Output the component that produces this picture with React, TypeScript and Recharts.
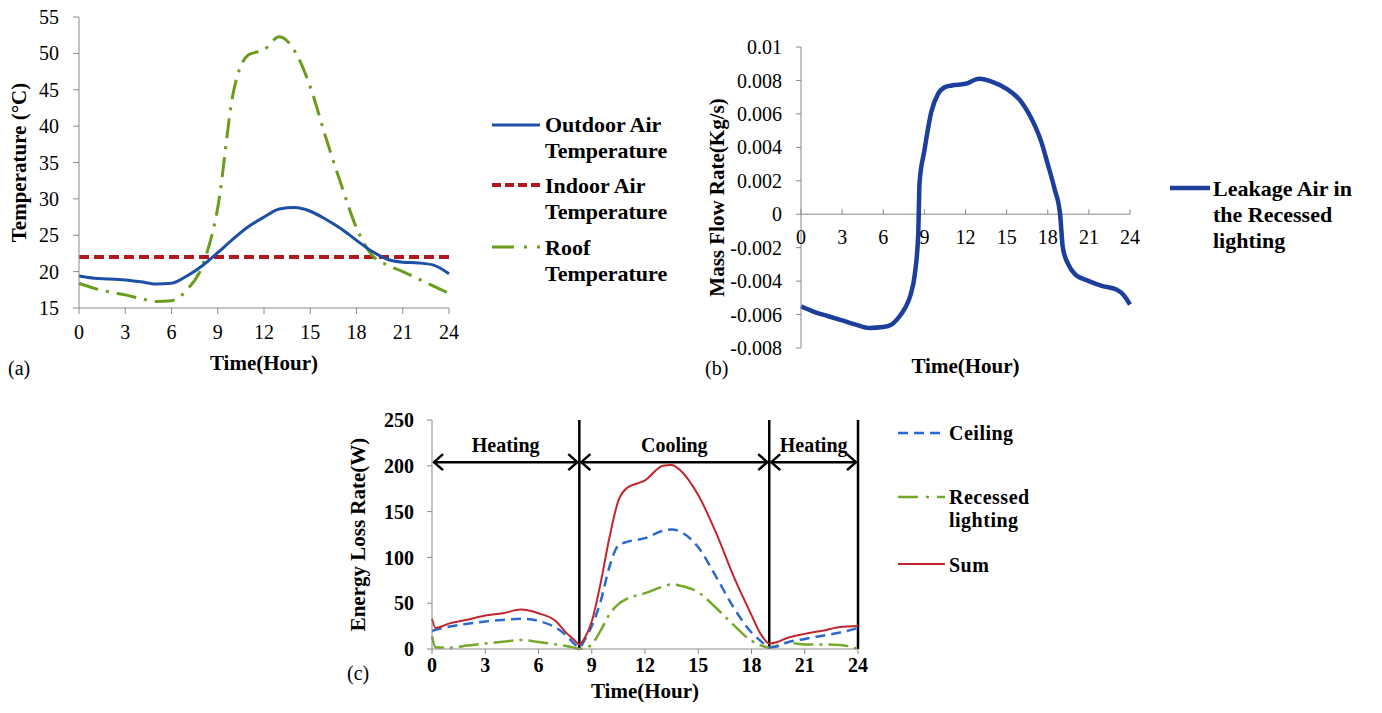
import React from 'react';
import { LineChart, Line, XAxis, YAxis, ReferenceLine, Legend } from 'recharts';

const FONT = '"Liberation Serif", "Times New Roman", serif';
const AXIS = '#8a8a8a';

// ---------- (a) temperatures ----------
const tempHours = [0, 1, 2, 3, 4, 5, 6, 7, 8, 9, 10, 11, 12, 13, 14, 15, 16, 17, 18, 19, 20, 21, 22, 23, 24];
const outdoorTemp = [19.4, 19.1, 19.0, 18.85, 18.6, 18.3, 18.4, 19.4, 20.8, 22.6, 24.5, 26.2, 27.5, 28.6, 28.8, 28.3, 27.2, 25.9, 24.3, 22.8, 21.7, 21.3, 21.2, 20.9, 19.7];
const indoorTemp = [22, 22, 22, 22, 22, 22, 22, 22, 22, 22, 22, 22, 22, 22, 22, 22, 22, 22, 22, 22, 22, 22, 22, 22, 22];
const roofTemp = [18.4, 17.7, 17.2, 16.8, 16.3, 15.9, 16.0, 17.5, 20.8, 28.8, 44.5, 49.8, 50.5, 52.3, 50.3, 45.4, 38.5, 32.0, 26.0, 22.3, 20.9, 20.0, 19.0, 18.0, 17.0];
const hourTicks = [0, 3, 6, 9, 12, 15, 18, 21, 24];
const tempTicks = [15, 20, 25, 30, 35, 40, 45, 50, 55];

// ---------- (b) mass flow ----------
const flowHours = [0, 1, 2, 3, 4, 5, 6, 6.6, 7.1, 7.6, 8.0, 8.3, 8.55, 8.65, 9, 9.5, 10, 10.5, 11, 12, 13, 14, 15, 16, 17, 17.5, 18, 18.5, 18.9, 19.1, 19.5, 20, 21, 22, 23, 23.5, 24];
const flowValues = [-0.0055, -0.00585, -0.0061, -0.00635, -0.0066, -0.0068, -0.00675, -0.0066, -0.0062, -0.0056, -0.0048, -0.0036, -0.0012, 0.0019, 0.0038, 0.0061, 0.0072, 0.0076, 0.0077, 0.0078, 0.0081, 0.0079, 0.0075, 0.0068, 0.0054, 0.0044, 0.003, 0.0015, 0.0, -0.002, -0.003, -0.0036, -0.004, -0.0043, -0.0045, -0.0048, -0.0054];
const flowTicks = [-0.008, -0.006, -0.004, -0.002, 0, 0.002, 0.004, 0.006, 0.008, 0.01];
const FLOW_MIN = -0.008;
const FLOW_MAX = 0.01;

// ---------- (c) energy loss ----------
const lossHours = [0, 0.2, 1, 2, 3, 4, 5, 6, 7, 7.5, 8, 8.3, 8.6, 9, 9.5, 10, 10.5, 11, 12, 13, 13.5, 14, 15, 16, 17, 18, 18.5, 19, 19.5, 20, 21, 22, 23, 24];
const ceilingLoss = [19.7, 21, 24.5, 27.5, 30, 31.7, 33, 30.6, 23, 16, 6, 1.5, 10, 25, 52, 90, 113, 117, 121, 129, 130.5, 128, 111, 79, 45, 18, 9, 2, 3, 7, 11, 14.5, 18, 23];
const recessedLoss = [14, 2, 1.5, 3.8, 6, 7.8, 9.8, 7.6, 5, 3.5, 1.5, 0, 1, 5, 20, 38, 49, 55, 61, 68, 70.5, 69, 62, 45, 26, 9, 4, 1.5, 4, 7, 5, 5, 4.5, 0];
const sumLoss = [33, 23, 28, 32, 36.5, 39, 43, 39, 30, 19, 10, 5, 12, 30, 72, 122, 162, 176, 184, 200, 201, 195, 168, 127, 79, 37, 17, 6, 8, 12, 16.5, 20, 24, 25];
const lossTicks = [0, 50, 100, 150, 200, 250];
const modeBounds = [8.3, 19, 24];
const modeStarts = [0, 8.3, 19];
const modeEnds = [8.3, 19, 24];
const modeNames = ['Heating', 'Cooling', 'Heating'];
const ARROW_LEVEL = 204;

const tempData = tempHours.map((h, i) => ({ h, outdoor: outdoorTemp[i], indoor: indoorTemp[i], roof: roofTemp[i] }));
const flowData = flowHours.map((h, i) => ({ h, flow: flowValues[i] }));
const lossData = lossHours.map((h, i) => ({ h, ceiling: ceilingLoss[i], recessed: recessedLoss[i], sum: sumLoss[i] }));

const BLUE = '#1d4fa6';
const RED = '#b01a1f';
const GREEN = '#6a9c1e';

type LegendRow = { lines: string[]; stroke: string; dash?: string; sw: number; lineY: number; baselines: number[] };

function LegendSvg({ w, h, rows, x1, x2, tx, fs, ls }: { w: number; h: number; rows: LegendRow[]; x1: number; x2: number; tx: number; fs: number; ls?: number }) {
  return (
    <svg width={w} height={h} style={{ display: 'block' }}>
      {rows.map((r, i) => (
        <g key={i}>
          <line x1={x1} x2={x2} y1={r.lineY} y2={r.lineY} stroke={r.stroke} strokeWidth={r.sw} strokeDasharray={r.dash} />
          {r.lines.map((t, j) => (
            <text key={j} x={tx} y={r.baselines[j]} fontFamily={FONT} fontWeight="bold" fontSize={fs} letterSpacing={ls || 0} fill="#000">
              {t}
            </text>
          ))}
        </g>
      ))}
    </svg>
  );
}

const H_B = 390;
const MB = { top: 47, right: 252, left: 0, bottom: 16 };
const XH_B = 26;
const plotHB = H_B - MB.top - MB.bottom - XH_B;
const zeroOffset = (plotHB * (0 - FLOW_MIN)) / (FLOW_MAX - FLOW_MIN);

function FlowTick(props: any) {
  const { x, y, payload } = props;
  const zy = y - zeroOffset;
  return (
    <g>
      <line x1={x} x2={x} y1={zy - 5} y2={zy} stroke={AXIS} strokeWidth={1} />
      <text x={x} y={zy + 30} textAnchor="middle" fontFamily={FONT} fontSize={20} fill="#000">
        {payload.value}
      </text>
    </g>
  );
}

function ModeArrow(props: any) {
  const { x1, y1, x2, y2, name } = props;
  const hl = 11;
  const hw = 8;
  return (
    <g>
      <g stroke="#000" strokeWidth={2.5} fill="none">
        <line x1={x1 + 2} y1={y1} x2={x2 - 2} y2={y2} />
        <polyline points={`${x1 + hl},${y1 - hw} ${x1 + 2},${y1} ${x1 + hl},${y1 + hw}`} />
        <polyline points={`${x2 - hl},${y2 - hw} ${x2 - 2},${y2} ${x2 - hl},${y2 + hw}`} />
      </g>
      <text x={(x1 + x2) / 2} y={y1 - 10} textAnchor="middle" fontFamily={FONT} fontWeight="bold" fontSize={20} fill="#000">
        {name}
      </text>
    </g>
  );
}

const tickStyle = { fontFamily: FONT, fontSize: 20, fill: '#000' };
const boldTick = { fontFamily: FONT, fontSize: 20, fill: '#000', fontWeight: 'bold' as const };
const labelStyle = { fontFamily: FONT, fontSize: 21, fontWeight: 'bold' as const, fill: '#000', textAnchor: 'middle' as const };

const fmtFlow = (v: number) => (v === 0 ? '0' : String(Number(v.toFixed(3))));

export default function App() {
  return (
    <div style={{ position: 'absolute', left: 0, top: 0, width: 1382, height: 713, background: '#fff', fontFamily: FONT }}>
      {/* (a) */}
      <div style={{ position: 'absolute', left: 0, top: 0 }}>
        <LineChart width={700} height={390} data={tempData} margin={{ top: 17, right: 251, left: 0, bottom: 20 }}>
          <XAxis
            dataKey="h"
            type="number"
            domain={[0, 24]}
            ticks={hourTicks}
            stroke={AXIS}
            tickSize={6}
            tickMargin={11}
            height={62}
            tick={tickStyle}
            label={{ value: 'Time(Hour)', position: 'insideBottom', offset: 0, style: labelStyle }}
          />
          <YAxis
            type="number"
            domain={[15, 55]}
            ticks={tempTicks}
            stroke={AXIS}
            width={79}
            tickSize={6}
            tickMargin={14}
            tick={tickStyle}
            label={{ value: 'Temperature (°C)', angle: -90, position: 'insideLeft', offset: 19, style: labelStyle }}
          />
          <Line dataKey="indoor" stroke={RED} strokeWidth={4} strokeDasharray="10 5" dot={false} isAnimationActive={false} type="linear" />
          <Line dataKey="roof" stroke={GREEN} strokeWidth={3} strokeDasharray="20 8 3 8" dot={false} isAnimationActive={false} type="monotone" />
          <Line dataKey="outdoor" stroke={BLUE} strokeWidth={3} dot={false} isAnimationActive={false} type="monotone" />
          <Legend
            layout="horizontal"
            verticalAlign="middle"
            align="center"
            wrapperStyle={{ left: 485, top: 105, width: 210, height: 190 }}
            content={() => (
              <LegendSvg
                w={210}
                h={190}
                x1={7}
                x2={55}
                tx={60}
                fs={22}
                rows={[
                  { lines: ['Outdoor Air', 'Temperature'], stroke: BLUE, sw: 3, lineY: 20, baselines: [27, 53] },
                  { lines: ['Indoor Air', 'Temperature'], stroke: RED, sw: 4, dash: '9 4', lineY: 80, baselines: [88, 114] },
                  { lines: ['Roof', 'Temperature'], stroke: GREEN, sw: 3, dash: '22 10 3 10', lineY: 142, baselines: [150, 176] },
                ]}
              />
            )}
          />
        </LineChart>
      </div>
      <div style={{ position: 'absolute', left: 8, top: 356, fontSize: 20, lineHeight: '24px' }}>(a)</div>

      {/* (b) */}
      <div style={{ position: 'absolute', left: 700, top: 0 }}>
        <LineChart width={682} height={H_B} data={flowData} margin={MB}>
          <XAxis
            dataKey="h"
            type="number"
            domain={[0, 24]}
            ticks={hourTicks}
            axisLine={false}
            tickLine={false}
            tickSize={0}
            tickMargin={0}
            height={XH_B}
            tick={<FlowTick />}
            label={{ value: 'Time(Hour)', position: 'insideBottom', offset: 1, style: labelStyle }}
          />
          <YAxis
            type="number"
            domain={[FLOW_MIN, FLOW_MAX]}
            ticks={flowTicks}
            tickFormatter={fmtFlow}
            stroke={AXIS}
            width={101}
            tickSize={5}
            tickMargin={14}
            tick={tickStyle}
            label={{ value: 'Mass Flow Rate(Kg/s)', angle: -90, position: 'insideLeft', offset: 17, style: labelStyle }}
          />
          <ReferenceLine y={0} stroke={AXIS} strokeWidth={1} />
          <Line dataKey="flow" stroke="#1c3f9c" strokeWidth={4.5} dot={false} isAnimationActive={false} type="monotone" />
          <Legend
            layout="horizontal"
            verticalAlign="middle"
            align="center"
            wrapperStyle={{ left: 465, top: 170, width: 217, height: 90 }}
            content={() => (
              <LegendSvg
                w={217}
                h={90}
                x1={5}
                x2={45}
                tx={48}
                fs={22}
                rows={[{ lines: ['Leakage Air in', 'the Recessed', 'lighting'], stroke: '#1c3f9c', sw: 4.5, lineY: 18, baselines: [26, 52, 78] }]}
              />
            )}
          />
        </LineChart>
      </div>
      <div style={{ position: 'absolute', left: 705, top: 356, fontSize: 20, lineHeight: '24px' }}>(b)</div>

      {/* (c) */}
      <div style={{ position: 'absolute', left: 330, top: 395 }}>
        <LineChart width={720} height={318} data={lossData} margin={{ top: 25, right: 192, left: 0, bottom: 12 }}>
          <XAxis
            dataKey="h"
            type="number"
            domain={[0, 24]}
            ticks={hourTicks}
            stroke={AXIS}
            tickSize={5}
            tickMargin={4}
            height={52}
            tick={boldTick}
            label={{ value: 'Time(Hour)', position: 'insideBottom', offset: 3, style: labelStyle }}
          />
          <YAxis
            type="number"
            domain={[0, 250]}
            ticks={lossTicks}
            stroke={AXIS}
            width={102}
            tickSize={5}
            tickMargin={13}
            tick={boldTick}
            label={{ value: 'Energy Loss Rate(W)', angle: -90, position: 'insideLeft', offset: 28, style: labelStyle }}
          />
          {modeBounds.map((b, i) => (
            <ReferenceLine key={'b' + i} x={b} stroke="#000" strokeWidth={2.5} />
          ))}
          {modeNames.map((n, i) => (
            <ReferenceLine
              key={'m' + i}
              segment={[
                { x: modeStarts[i], y: ARROW_LEVEL },
                { x: modeEnds[i], y: ARROW_LEVEL },
              ]}
              stroke="#000"
              shape={(p: any) => <ModeArrow {...p} name={n} />}
            />
          ))}
          <Line dataKey="recessed" stroke="#76a82a" strokeWidth={2.5} strokeDasharray="20 6 3 6" dot={false} isAnimationActive={false} type="monotone" />
          <Line dataKey="ceiling" stroke="#2a6ad0" strokeWidth={2.5} strokeDasharray="10 6" dot={false} isAnimationActive={false} type="monotone" />
          <Line dataKey="sum" stroke="#c0262b" strokeWidth={2} dot={false} isAnimationActive={false} type="monotone" />
          <Legend
            layout="horizontal"
            verticalAlign="middle"
            align="center"
            wrapperStyle={{ left: 563, top: 20, width: 150, height: 170 }}
            content={() => (
              <LegendSvg
                w={150}
                h={170}
                x1={5}
                x2={52}
                tx={56}
                fs={20}
                ls={0.5}
                rows={[
                  { lines: ['Ceiling'], stroke: '#2a6ad0', sw: 2.5, dash: '10 6', lineY: 18, baselines: [25] },
                  { lines: ['Recessed', 'lighting'], stroke: '#76a82a', sw: 2.5, dash: '20 8 3 8', lineY: 82, baselines: [89, 112] },
                  { lines: ['Sum'], stroke: '#c0262b', sw: 2, lineY: 149, baselines: [157] },
                ]}
              />
            )}
          />
        </LineChart>
      </div>
      <div style={{ position: 'absolute', left: 347, top: 661, fontSize: 20, lineHeight: '24px' }}>(c)</div>
    </div>
  );
}
